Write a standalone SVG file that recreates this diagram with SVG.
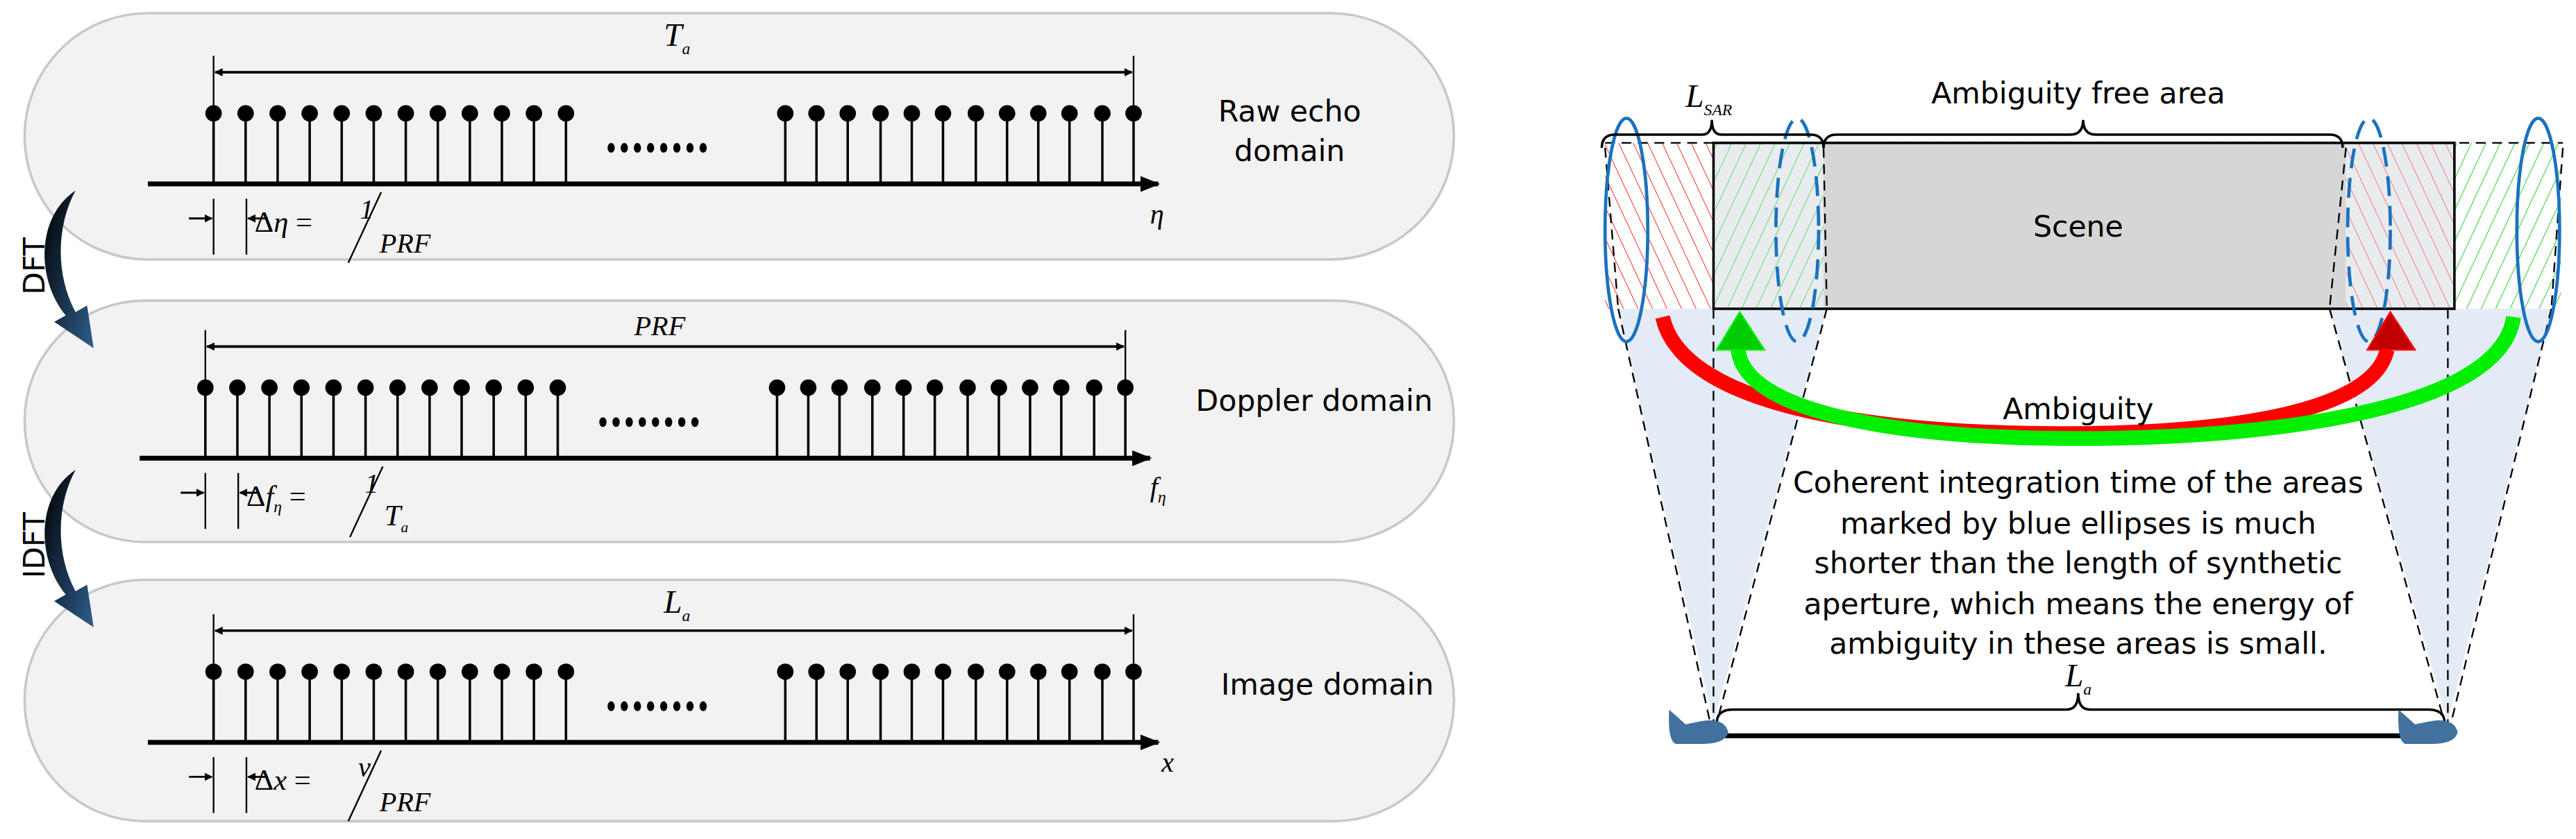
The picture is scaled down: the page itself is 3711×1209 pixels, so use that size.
<svg xmlns="http://www.w3.org/2000/svg" width="3711" height="1209" viewBox="0 0 3711 1209">
<style>
.sans{font-family:"DejaVu Sans","Liberation Sans",sans-serif;font-size:18px;fill:#000}
.math{font-family:"Liberation Serif",serif;font-style:italic;fill:#000}
.panel{fill:#f2f2f2;stroke:#c8c8c8;stroke-width:1.5}
.thin{stroke:#000;stroke-width:1;fill:none}
.dash{stroke:#000;stroke-width:1;stroke-dasharray:6 4;fill:none}
</style>
<defs>
<marker id="ah" viewBox="0 0 10 10" refX="9" refY="5" markerWidth="5" markerHeight="5" orient="auto-start-reverse" markerUnits="userSpaceOnUse"><path d="M0,0 L10,5 L0,10 z" fill="#000"/></marker>
<marker id="ahBig" viewBox="0 0 10 10" refX="9" refY="5" markerWidth="12" markerHeight="12" orient="auto" markerUnits="userSpaceOnUse"><path d="M0,1 L10,5 L0,9 z" fill="#000"/></marker>
<linearGradient id="dg" x1="0" y1="0" x2="1" y2="1"><stop offset="0" stop-color="#000"/><stop offset="1" stop-color="#2e5d8c"/></linearGradient>
<pattern id="hr" width="8" height="8" patternUnits="userSpaceOnUse" patternTransform="rotate(-25)"><line x1="0" y1="0" x2="0" y2="8" stroke="#ff2020" stroke-width="0.8"/></pattern>
<pattern id="hg" width="8" height="8" patternUnits="userSpaceOnUse" patternTransform="rotate(25)"><line x1="0" y1="0" x2="0" y2="8" stroke="#22cc22" stroke-width="0.8"/></pattern>
<g id="stem"><line x1="0" y1="0" x2="0" y2="43" stroke="#000" stroke-width="1.5"/><circle cx="0" cy="0" r="5" fill="#000"/></g>
<g id="train">
<use href="#stem" x="130"/><use href="#stem" x="149.5"/><use href="#stem" x="169"/><use href="#stem" x="188.5"/><use href="#stem" x="208"/><use href="#stem" x="227.5"/><use href="#stem" x="247"/><use href="#stem" x="266.5"/><use href="#stem" x="286"/><use href="#stem" x="305.5"/><use href="#stem" x="325"/><use href="#stem" x="344.5"/>
<use href="#stem" x="478"/><use href="#stem" x="497"/><use href="#stem" x="516"/><use href="#stem" x="536"/><use href="#stem" x="555"/><use href="#stem" x="574"/><use href="#stem" x="594"/><use href="#stem" x="613"/><use href="#stem" x="632"/><use href="#stem" x="651"/><use href="#stem" x="671"/><use href="#stem" x="690"/>
<g fill="#000"><ellipse cx="372" cy="21" rx="2.2" ry="3"/><ellipse cx="380" cy="21" rx="2.2" ry="3"/><ellipse cx="388" cy="21" rx="2.2" ry="3"/><ellipse cx="396" cy="21" rx="2.2" ry="3"/><ellipse cx="404" cy="21" rx="2.2" ry="3"/><ellipse cx="412" cy="21" rx="2.2" ry="3"/><ellipse cx="420" cy="21" rx="2.2" ry="3"/><ellipse cx="428" cy="21" rx="2.2" ry="3"/></g>
<line x1="90" y1="43" x2="705" y2="43" stroke="#000" stroke-width="3" marker-end="url(#ahBig)"/>
<line x1="130" y1="-35" x2="130" y2="-2" class="thin"/><line x1="690" y1="-35" x2="690" y2="-2" class="thin"/>
<line x1="131" y1="-25" x2="689" y2="-25" stroke="#000" stroke-width="1.5" marker-start="url(#ah)" marker-end="url(#ah)"/>
<line x1="130" y1="52" x2="130" y2="86" class="thin"/><line x1="150" y1="52" x2="150" y2="86" class="thin"/>
<line x1="115" y1="64" x2="129" y2="64" stroke="#000" stroke-width="1.2" marker-end="url(#ah)"/>
<line x1="163" y1="64" x2="151" y2="64" stroke="#000" stroke-width="1.2" marker-end="url(#ah)"/>
</g>
</defs>
<g transform="scale(2.3667)">
<g id="panel1">
<rect class="panel" x="15" y="8" width="870" height="150" rx="75"/>
<use href="#train" x="0" y="69"/>
<text class="math" x="404" y="28" font-size="20">T<tspan font-size="10" dy="5">a</tspan></text>
<text class="math" x="700" y="136" font-size="17">η</text>
<text class="math" x="155" y="141" font-size="18"><tspan font-style="normal">Δ</tspan>η <tspan font-style="normal">=</tspan></text>
<text class="math" x="219" y="133" font-size="17" font-style="normal">1</text>
<line x1="212" y1="160" x2="232" y2="117" class="thin" stroke-width="1.3"/>
<text class="math" x="231" y="154" font-size="17">PRF</text>
<text class="sans" x="785" y="74" text-anchor="middle">Raw echo</text>
<text class="sans" x="785" y="98" text-anchor="middle">domain</text>
</g>
<g id="panel2">
<rect class="panel" x="15" y="183" width="870" height="147" rx="73"/>
<use href="#train" x="-5" y="236"/>
<text class="math" x="386" y="204" font-size="17">PRF</text>
<text class="math" x="700" y="302" font-size="17">f<tspan font-size="10" dy="4">η</tspan></text>
<text class="math" x="150" y="308" font-size="18"><tspan font-style="normal">Δ</tspan>f<tspan font-size="10" dy="4">η</tspan><tspan dy="-4" font-style="normal"> =</tspan></text>
<text class="math" x="222" y="300" font-size="17" font-style="normal">1</text>
<line x1="213" y1="327" x2="233" y2="284" class="thin" stroke-width="1.3"/>
<text class="math" x="234" y="320" font-size="18">T<tspan font-size="9" dy="4">a</tspan></text>
<text class="sans" x="800" y="250" text-anchor="middle">Doppler domain</text>
</g>
<g id="panel3">
<rect class="panel" x="15" y="353" width="870" height="147" rx="73"/>
<use href="#train" x="0" y="409"/>
<text class="math" x="404" y="373" font-size="20">L<tspan font-size="10" dy="5">a</tspan></text>
<text class="math" x="707" y="470" font-size="17">x</text>
<text class="math" x="155" y="481" font-size="18"><tspan font-style="normal">Δ</tspan>x <tspan font-style="normal">=</tspan></text>
<text class="math" x="218" y="473" font-size="17">v</text>
<line x1="212" y1="500" x2="232" y2="457" class="thin" stroke-width="1.3"/>
<text class="math" x="231" y="494" font-size="17">PRF</text>
<text class="sans" x="808" y="423" text-anchor="middle">Image domain</text>
</g>
<g id="dft">
<path d="M46,116 C22,132 22,170 40,192 L33,196 L57,212 L53,186 L46,190 C34,168 34,138 46,116 Z" fill="url(#dg)"/>
<text class="sans" x="0" y="0" font-size="16" transform="translate(27,162) rotate(-90)" text-anchor="middle">DFT</text>
</g>
<g id="idft">
<path d="M46,286 C22,302 22,340 40,362 L33,366 L57,382 L53,356 L46,360 C34,338 34,308 46,286 Z" fill="url(#dg)"/>
<text class="sans" x="0" y="0" font-size="16" transform="translate(27,332) rotate(-90)" text-anchor="middle">IDFT</text>
</g>

<g id="scene-diagram">
<polygon points="985,188 1112,188 1043,440" fill="#e3ecf6"/>
<polygon points="1418,188 1553,188 1490,440" fill="#e3ecf6"/>
<rect x="977" y="87" width="66" height="101" fill="#fff"/>
<rect x="977" y="87" width="66" height="101" fill="url(#hr)"/>
<rect x="1043" y="87" width="67" height="101" fill="#e8ecef"/>
<rect x="1043" y="87" width="67" height="101" fill="url(#hg)" opacity="0.7"/>
<rect x="1110" y="87" width="318" height="101" fill="#d6d6d6"/>
<rect x="1428" y="87" width="66" height="101" fill="#e8ecef"/>
<rect x="1428" y="87" width="66" height="101" fill="url(#hr)" opacity="0.6"/>
<rect x="1494" y="87" width="65" height="101" fill="#fff"/>
<rect x="1494" y="87" width="65" height="101" fill="url(#hg)"/>
<rect x="1043" y="87" width="451" height="101" fill="none" stroke="#000" stroke-width="1.5"/>
<line x1="977" y1="87" x2="1560" y2="87" class="dash" stroke-width="1.5"/>
<text class="sans" x="1265" y="144" text-anchor="middle">Scene</text>
</g>
<g id="beams">
<line x1="985" y1="188" x2="1041" y2="440" class="dash"/>
<line x1="1112" y1="188" x2="1045" y2="440" class="dash"/>
<line x1="1043" y1="188" x2="1043" y2="440" class="dash"/>
<line x1="977" y1="90" x2="985" y2="188" class="dash"/>
<line x1="1110" y1="90" x2="1112" y2="188" class="dash"/>
<line x1="1418" y1="188" x2="1488" y2="440" class="dash"/>
<line x1="1553" y1="188" x2="1492" y2="440" class="dash"/>
<line x1="1490" y1="188" x2="1490" y2="440" class="dash"/>
<line x1="1428" y1="90" x2="1418" y2="188" class="dash"/>
<line x1="1560" y1="90" x2="1553" y2="188" class="dash"/>
</g>
<g id="ellipses" fill="none" stroke="#1a72c0" stroke-width="2">
<ellipse cx="990" cy="140" rx="13" ry="68"/>
<ellipse cx="1094" cy="140" rx="13" ry="68" stroke-dasharray="12 6"/>
<ellipse cx="1442" cy="140" rx="13" ry="68" stroke-dasharray="12 6"/>
<ellipse cx="1545" cy="140" rx="13" ry="68"/>
</g>
<g id="braces" fill="none" stroke="#000" stroke-width="1.5">
<path d="M975,90 Q975,82 983,82 L1036,82 Q1042,82 1042,73 Q1042,82 1048,82 L1102,82 Q1110,82 1110,90"/>
<path d="M1110,90 Q1110,82 1118,82 L1260,82 Q1268,82 1268,73 Q1268,82 1276,82 L1418,82 Q1426,82 1426,90"/>
<path d="M1045,440 Q1045,432 1055,432 L1258,432 Q1265,432 1265,422 Q1265,432 1272,432 L1478,432 Q1488,432 1488,440"/>
<line x1="1043" y1="448" x2="1490" y2="448" stroke-width="3"/>
</g>
<g id="labels">
<text class="math" x="1026" y="65" font-size="20">L<tspan font-size="10" dy="5">SAR</tspan></text>
<text class="sans" x="1265" y="63" text-anchor="middle">Ambiguity free area</text>
<text class="math" x="1257" y="418" font-size="20">L<tspan font-size="10" dy="5">a</tspan></text>
</g>
<g id="arrows">
<path d="M1012,193 C1025,250 1150,264 1255,264 C1360,264 1445,250 1453,213" fill="none" stroke="#ff0000" stroke-width="9"/>
<polygon points="1455,190 1441,213 1470,213" fill="#c00000" stroke="#ff0000" stroke-width="1"/>
<path d="M1530,193 C1522,250 1380,267 1265,267 C1150,267 1062,250 1058,213" fill="none" stroke="#00ee00" stroke-width="9"/>
<polygon points="1059,190 1045,213 1074,213" fill="#00cc00" stroke="#00ee00" stroke-width="1"/>
</g>
<g id="text-block">
<text class="sans" x="1265" y="255" text-anchor="middle">Ambiguity</text>
<text class="sans" x="1265" y="300" text-anchor="middle">Coherent integration time of the areas</text>
<text class="sans" x="1265" y="325" text-anchor="middle">marked by blue ellipses is much</text>
<text class="sans" x="1265" y="349" text-anchor="middle">shorter than the length of synthetic</text>
<text class="sans" x="1265" y="374" text-anchor="middle">aperture, which means the energy of</text>
<text class="sans" x="1265" y="398" text-anchor="middle">ambiguity in these areas is small.</text>
</g>
<g id="aircraft" fill="#41719c">
<path d="M1016,432 L1026,441 L1036,439 Q1050,437 1052,446 Q1050,453 1036,453 L1020,453 Q1015,451 1016,432 Z"/>
<path d="M1460,432 L1470,441 L1480,439 Q1494,437 1496,446 Q1494,453 1480,453 L1464,453 Q1459,451 1460,432 Z"/>
</g>
</g>
</svg>
